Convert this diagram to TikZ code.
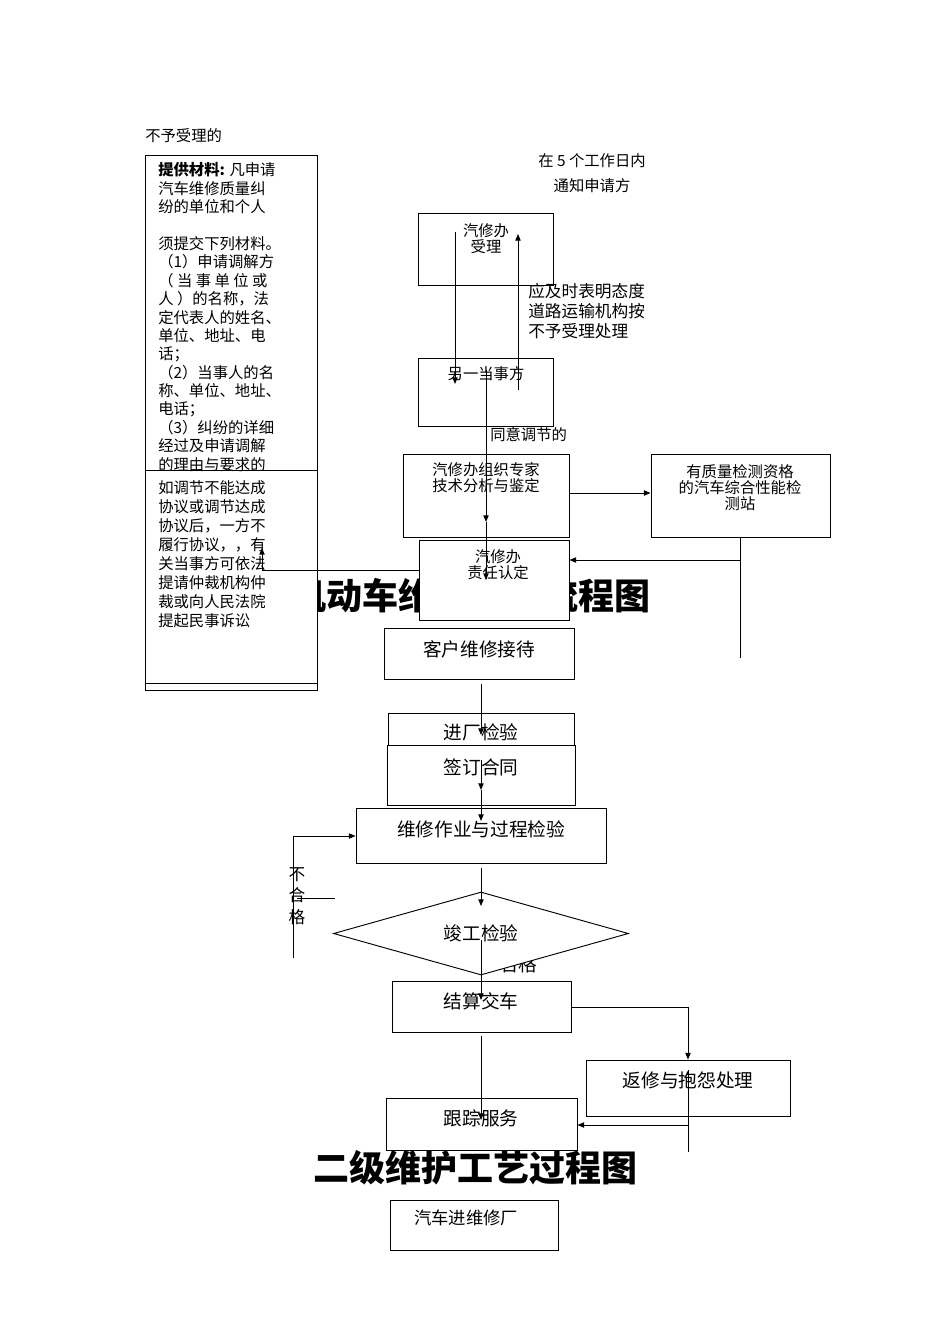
\documentclass[tikz,border=0pt]{standalone}
\usepackage{fontspec}
\setmainfont{Liberation Serif}
\newfontfamily\cjk{Noto Sans CJK SC}
\usetikzlibrary{arrows.meta,shapes.geometric}
\begin{document}
\begin{tikzpicture}[x=0.75pt,y=-0.75pt,
  box/.style={draw,fill=white,line width=0.7pt,inner sep=0},
  sm/.style={font=\cjk\fontsize{11.5}{12}\selectfont,inner sep=0},
  md/.style={font=\cjk\fontsize{14}{15}\selectfont,inner sep=0},
  ln/.style={line width=0.7pt},
  ar/.style={line width=0.7pt,-{Triangle[length=5pt,width=4pt]}},
  lt/.style={sm,anchor=west}]
\path[use as bounding box,fill=white] (0,0) rectangle (950,1344);
% titles (under boxes)
\node[font=\cjk\bfseries\fontsize{27}{28}\selectfont,inner sep=0] (t1) at (470,596) {机动车维修投诉流程图};
\node[font=\cjk\bfseries\fontsize{27}{28}\selectfont,inner sep=0] (t2) at (475,1168) {二级维护工艺过程图};
\node[md,anchor=west] (hg) at (500,964) {合格};
% left box
\node[lt] (n0) at (145,136) {不予受理的};
\draw[box] (145,155) rectangle (317,690);
\draw[ln] (145,470) -- (317,470) (145,683) -- (317,683);
\foreach \t [count=\i] in {{\textbf{提供材料:} 凡申请},汽车维修质量纠,纷的单位和个人,,须提交下列材料。,（1）申请调解方,（ 当 事 单 位 或,人 ）的名称，法,定代表人的姓名、,单位、地址、电,话；,（2）当事人的名,称、单位、地址、,电话；,（3）纠纷的详细,经过及申请调解,的理由与要求的}
  \node[lt] (p\i) at (158,170+18.4*\i-18.4) {\t};
\foreach \t [count=\i] in {如调节不能达成,协议或调节达成,协议后，一方不,履行协议，，有,关当事方可依法,提请仲裁机构仲,裁或向人民法院,提起民事诉讼}
  \node[lt] (q\i) at (158,488+19*\i-19) {\t};
% top texts
\node[sm] (d1) at (592,161) {在 5 个工作日内};
\node[sm] (d2) at (592,186) {通知申请方};
\node[box,minimum width=135*0.75pt,minimum height=72*0.75pt] (a) at (485.5,249) {};
\node[sm,align=center] (at) at (486,239) {汽修办\\受理};
\node[box,minimum width=135*0.75pt,minimum height=68*0.75pt] (b) at (485.5,392) {};
\node[sm] (bt) at (486,374) {另一当事方};
\node[lt,font=\cjk\fontsize{12.5}{13}\selectfont,align=left] (e) at (528,311) {应及时表明态度\\[2pt]道路运输机构按\\[2pt]不予受理处理};
\node[lt] (f) at (490,435) {同意调节的};
\node[box,minimum width=166*0.75pt,minimum height=83*0.75pt] (c) at (486,495.5) {};
\node[sm,align=center] (ct) at (486,478) {汽修办组织专家\\技术分析与鉴定};
\node[box,minimum width=179*0.75pt,minimum height=83*0.75pt] (g) at (740.5,495.5) {};
\node[sm,align=center] (gt) at (740,488) {有质量检测资格\\的汽车综合性能检\\测站};
\node[box,minimum width=150*0.75pt,minimum height=80*0.75pt] (h) at (494,580) {};
\node[sm,align=center] (ht) at (498,565) {汽修办\\责任认定};
\coordinate (a1) at (455,232); \coordinate (a2) at (455,384);
\coordinate (b1) at (518,390); \coordinate (b2) at (518,234);
\coordinate (c1) at (486,370); \coordinate (c2) at (486,522); \coordinate (c3) at (486,580);
\coordinate (g1) at (740,658); \coordinate (g2) at (740,560);
\coordinate (l1) at (262,570); \coordinate (l2) at (262,548);
\draw[ar] (a1) -- (a2);
\draw[ar] (b1) -- (b2);
\draw[ar] (c1) -- (c2);
\draw[ar] (c2) -- (c3);
\draw[ar] (c.east |- 0,493) -- (g.west |- 0,493);
\draw[ln] (g.south -| g1) -- (g1);
\draw[ar] (g2) -- (h.east |- g2);
\draw[ar] (h.west |- l1) -- (l1) -- (l2);
% lower flow
\node[box,minimum width=190*0.75pt,minimum height=51*0.75pt] (k) at (479,653.5) {};
\node[md] (kt) at (479,649) {客户维修接待};
\node[box,minimum width=186*0.75pt,minimum height=32*0.75pt] (m) at (481,729) {};
\node[md] (mt) at (481,732) {进厂检验};
\node[box,minimum width=188*0.75pt,minimum height=60*0.75pt] (n) at (481,775) {};
\node[md] (nt) at (481,767) {签订合同};
\node[box,minimum width=250*0.75pt,minimum height=55*0.75pt] (o) at (481,835.5) {};
\node[md] (ot) at (481,829) {维修作业与过程检验};
\node[box,diamond,aspect=3.55,minimum width=295*0.75pt,minimum height=83*0.75pt] (r) at (481,933.5) {};
\node[md] (rt) at (481,933) {竣工检验};
\node[box,minimum width=179*0.75pt,minimum height=51*0.75pt] (s) at (481.5,1006.5) {};
\node[md] (st) at (481,1001) {结算交车};
\node[box,minimum width=204*0.75pt,minimum height=56*0.75pt] (u) at (688,1088) {};
\node[md] (ut) at (688,1080) {返修与抱怨处理};
\node[box,minimum width=191*0.75pt,minimum height=52*0.75pt] (v) at (481.5,1124) {};
\node[md] (vt) at (481,1118) {跟踪服务};
\node[box,minimum width=168*0.75pt,minimum height=50*0.75pt] (w) at (474,1225) {};
\node[md,font=\cjk\fontsize{13}{14}\selectfont] (wt) at (466,1218) {汽车进维修厂};
\node[md,align=center,font=\cjk\fontsize{12.5}{16}\selectfont] (bh) at (297,896) {不\\合\\格};
\coordinate (k1) at (481,684); \coordinate (k2) at (481,735);
\coordinate (n1) at (481,760); \coordinate (n2) at (481,790); \coordinate (n3) at (481,821);
\coordinate (o1) at (481,868); \coordinate (o2) at (481,906);
\coordinate (r1) at (481,940); \coordinate (r2) at (481,1000);
\coordinate (x1) at (293,958); \coordinate (x2) at (293,836);
\coordinate (y1) at (297,898); \coordinate (y2) at (335,898);
\coordinate (s1) at (688,1007);
\coordinate (u1) at (688,1070); \coordinate (u2) at (688,1152); \coordinate (u3) at (688,1125);
\coordinate (s2) at (481,1036); \coordinate (s3) at (481,1120);
\draw[ar] (k1) -- (k2);
\draw[ar] (n1) -- (n2);
\draw[ar] (n2) -- (n3);
\draw[ar] (o1) -- (o2);
\draw[ar] (r1) -- (r2);
\draw[ar] (x1) -- (x2) -- (o.west |- x2);
\draw[ln] (y1) -- (y2);
\draw[ar] (s.east |- s1) -- (s1) -- (u.north);
\draw[ln] (u1) -- (u2);
\draw[ar] (u3) -- (v.east |- u3);
\draw[ar] (s2) -- (s3);
\end{tikzpicture}
\end{document}
